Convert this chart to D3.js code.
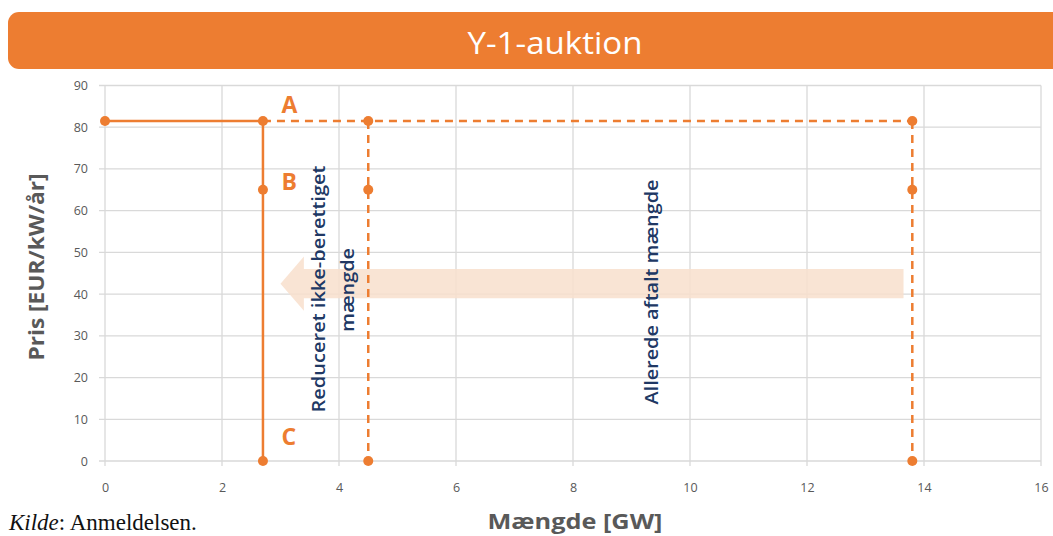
<!DOCTYPE html>
<html><head><meta charset="utf-8">
<script src="https://cdn.jsdelivr.net/npm/d3@7"></script>
<style>body{margin:0;background:#fff}</style>
</head><body>
<svg id="c" width="1053" height="536"></svg>
<script>
const title = "Y-1-auktion";
const xTicks = [0,2,4,6,8,10,12,14,16];
const yTicks = [0,10,20,30,40,50,60,70,80,90];
const solidLine = [[0,81.5],[2.7,81.5],[2.7,0]];
const solidPoints = [[0,81.5],[2.7,81.5],[2.7,65],[2.7,0]];
const dashedTop = [[2.7,81.5],[13.8,81.5]];
const dashedV1 = [[4.5,81.5],[4.5,0]];
const dashedV2 = [[13.8,81.5],[13.8,0]];
const dashedPoints = [[4.5,81.5],[4.5,65],[4.5,0],[13.8,81.5],[13.8,65],[13.8,0]];
const arrowBand = {x0:3.4, x1:13.65, y0:39, y1:46, tip:3.0, head0:36, head1:49};
const letters = [{t:"A",x:3.0,y:83.4},{t:"B",x:3.0,y:65},{t:"C",x:3.0,y:3.8}];

const orange = "#ED7D31";
const svg = d3.select("#c");
const x = d3.scaleLinear().domain([0,16]).range([105,1041]);
const y = d3.scaleLinear().domain([0,90]).range([461,85.5]);

// title bar
svg.append("rect").attr("x",8).attr("y",12).attr("width",1070).attr("height",57).attr("rx",11).attr("fill",orange);
svg.append("text").attr("x",555).attr("y",54).attr("text-anchor","middle").attr("fill","#fff")
  .attr("font-family","Open Sans, sans-serif").attr("font-size",31)
  .attr("textLength",175).attr("lengthAdjust","spacingAndGlyphs").text(title);

// grid
const g = svg.append("g");
g.selectAll(".gx").data(xTicks).join("line").attr("x1",d=>x(d)).attr("x2",d=>x(d)).attr("y1",y(90)).attr("y2",y(0)+5)
  .attr("stroke","#d9d9d9").attr("stroke-width",1.3);
g.selectAll(".gy").data(yTicks).join("line").attr("x1",x(0)-6).attr("x2",x(16)).attr("y1",d=>y(d)).attr("y2",d=>y(d))
  .attr("stroke","#d9d9d9").attr("stroke-width",1.3);

// axes labels
const xa = svg.append("g").attr("transform",`translate(0,${y(0)})`).call(d3.axisBottom(x).tickValues(xTicks).tickSize(0).tickPadding(22));
xa.select(".domain").remove();
xa.selectAll("text").attr("fill","#595959").attr("font-size",12.5).attr("font-family","Open Sans, sans-serif");
const ya = svg.append("g").attr("transform",`translate(${x(0)},0)`).call(d3.axisLeft(y).tickValues(yTicks).tickSize(0).tickPadding(17));
ya.select(".domain").remove();
ya.selectAll("text").attr("fill","#595959").attr("font-size",12.5).attr("font-family","Open Sans, sans-serif");

// arrow band
const ab = arrowBand;
const ap = [[ab.x1,ab.y1],[ab.x0,ab.y1],[ab.x0,ab.head1],[ab.tip,(ab.y0+ab.y1)/2],[ab.x0,ab.head0],[ab.x0,ab.y0],[ab.x1,ab.y0]];
svg.append("path").attr("d",d3.line().x(d=>x(d[0])).y(d=>y(d[1]))(ap)+"Z").attr("fill","#F8DFCC").attr("opacity",0.85);

// lines
const line = d3.line().x(d=>x(d[0])).y(d=>y(d[1]));
[dashedTop,dashedV1,dashedV2].forEach(dd=>{
  svg.append("path").attr("d",line(dd)).attr("fill","none").attr("stroke",orange).attr("stroke-width",2.5).attr("stroke-dasharray","8,6");
});
svg.append("path").attr("d",line(solidLine)).attr("fill","none").attr("stroke",orange).attr("stroke-width",2.5);
svg.selectAll(".sp").data(solidPoints.concat(dashedPoints)).join("circle").attr("cx",d=>x(d[0])).attr("cy",d=>y(d[1])).attr("r",5).attr("fill",orange);

// letters
svg.selectAll(".lt").data(letters).join("text").attr("x",d=>x(d.x)+1).attr("y",d=>y(d.y)).text(d=>d.t)
  .attr("fill",orange).attr("font-weight","bold").attr("font-size",23).attr("font-family","Open Sans, sans-serif");

// rotated annotations
const navy = "#203864";
function rot(tx,cx,cy,len){
  svg.append("text").attr("transform",`translate(${cx},${cy}) rotate(-90)`).attr("text-anchor","middle")
    .attr("fill",navy).attr("font-size",18).attr("font-weight",600).attr("font-family","Open Sans, sans-serif")
    .attr("textLength",len).attr("lengthAdjust","spacingAndGlyphs").text(tx);
}
rot("Reduceret ikke-berettiget",325,289,247);
rot("mængde",354,290,84);
rot("Allerede aftalt mængde",658,292,225);

// axis titles
svg.append("text").attr("transform","translate(44,267) rotate(-90)").attr("text-anchor","middle").attr("fill","#595959")
  .attr("font-weight","bold").attr("font-size",22).attr("font-family","Open Sans, sans-serif")
  .attr("textLength",187).attr("lengthAdjust","spacingAndGlyphs").text("Pris [EUR/kW/år]");
svg.append("text").attr("x",575).attr("y",529).attr("text-anchor","middle").attr("fill","#595959")
  .attr("font-weight","bold").attr("font-size",22).attr("font-family","Open Sans, sans-serif")
  .attr("textLength",175).attr("lengthAdjust","spacingAndGlyphs").text("Mængde [GW]");
const k = svg.append("text").attr("x",9).attr("y",530).attr("fill","#111").attr("font-size",23).attr("font-family","Liberation Serif, serif");
k.append("tspan").attr("font-style","italic").text("Kilde");
k.append("tspan").text(": Anmeldelsen.");
</script>
</body></html>
